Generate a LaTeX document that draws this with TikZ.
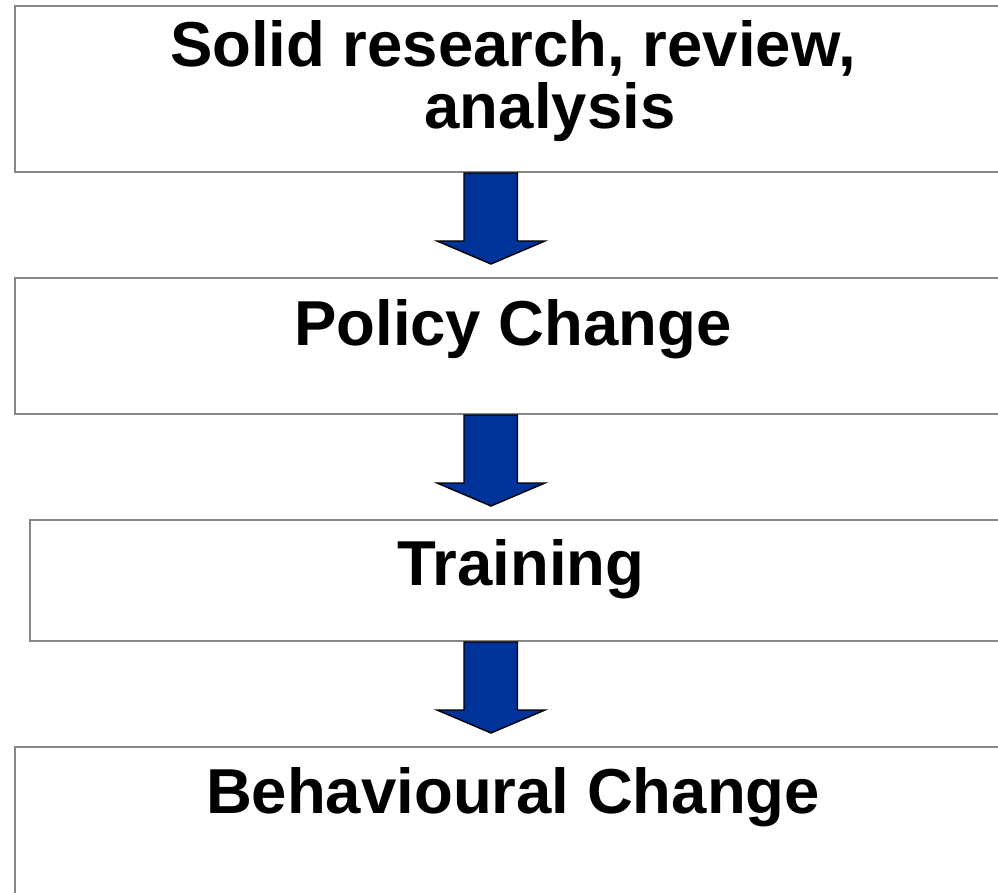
\documentclass[tikz,border=0pt]{standalone}
\usepackage{fontspec}
\setmainfont{Liberation Sans}
\begin{document}
\begin{tikzpicture}[x=1pt,y=-1pt,
  box/.style={draw=black!47, line width=2pt, fill=white, rectangle, inner sep=0pt, anchor=north west},
  lbl/.style={font=\fontsize{63.5}{62}\selectfont\bfseries, inner sep=0pt, anchor=base},
  bluearrow/.style={draw=black, line width=1.4pt, fill={rgb,255:red,0;green,51;blue,153}, line join=miter}]
\useasboundingbox (0,0) rectangle (998,893);
\clip (0,0) rectangle (998,893);
% boxes
\node[box, minimum width=996pt, minimum height=166pt] (b1) at (14,5) {};
\node[box, minimum width=996pt, minimum height=136pt] (b2) at (14,277) {};
\node[box, minimum width=981pt, minimum height=121pt] (b3) at (29,519) {};
\node[box, minimum width=996pt, minimum height=170pt] (b4) at (14,746) {};
% texts
\node[lbl] (t1a) at (513,67) {Solid research, review,};
\node[lbl] (t1b) at (550,129) {analysis};
\node[lbl] (t2) at (513,345) {Policy Change};
\node[lbl] (t3) at (521,585) {Training};
\node[lbl] (t4) at (513,813) {Behavioural Change};
% arrows
\coordinate (ax) at (490.5,0);
\foreach \s in {b1,b2,b3}{
  \draw[bluearrow] (\s.south -| ax) ++(-26.5,0) -- ++(0,68) -- ++(-27,0)
    -- ++(54,23) -- ++(54,-23) -- ++(-27.5,0) -- ++(0,-68) -- cycle;
}
\end{tikzpicture}
\end{document}
